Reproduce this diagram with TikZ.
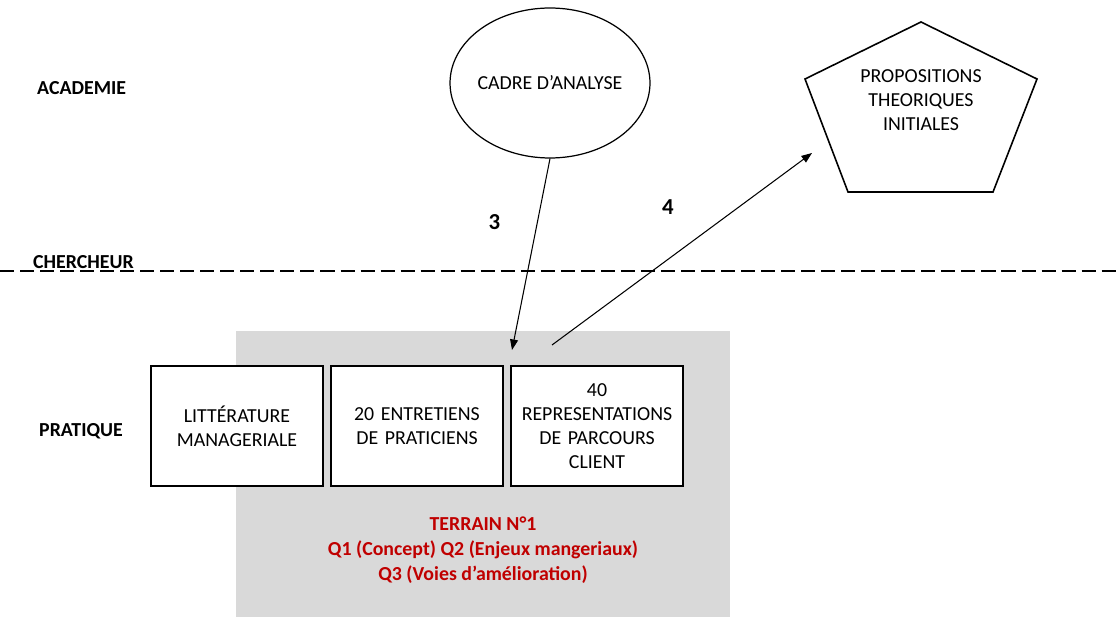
\documentclass[tikz,border=0pt]{standalone}
\usepackage{fontspec}
\setmainfont{Carlito}
\usetikzlibrary{arrows.meta, positioning, shapes.geometric}
\definecolor{terraingray}{HTML}{D9D9D9}
\definecolor{terrainred}{HTML}{C00000}

\begin{document}
\begin{tikzpicture}[
    x=0.02cm, y=-0.02cm,
    >={Triangle[length=6pt, width=4.5pt]},
    level/.style={font=\fontsize{11.3}{13.7}\selectfont\bfseries, anchor=west},
    source/.style={
      draw, line width=0.7pt, fill=white,
      minimum width=3.44cm, minimum height=2.4cm, inner sep=0pt,
      text width=3.3cm, align=center,
      font=\fontsize{11.3}{13.7}\selectfont
    },
    cadre/.style={
      draw, ellipse, line width=0.7pt, inner xsep=-0.3cm,
      minimum width=4cm, minimum height=3cm,
      font=\fontsize{11.3}{13.7}\selectfont
    },
    step label/.style={font=\fontsize{13}{15}\selectfont\bfseries},
    link/.style={->, line width=0.6pt}
  ]
  \useasboundingbox (0,0) rectangle (1118,618);

  % levels
  \node[level] (academie) at (31,88) {ACADEMIE};
  \node[level] (chercheur) at (27,262) {CHERCHEUR};
  \node[level] (pratique) at (33,431) {PRATIQUE};
  \draw[line width=1.1pt, dash pattern=on 8pt off 3.4pt] (0,271) -- (1118,271);

  % terrain
  \fill[terraingray] (236,331) rectangle (730,617);
  \node[source] (litt) at (237,426) {LITTÉRATURE\\MANAGERIALE};
  \node[source] (entretiens) at (417,426) {20 ENTRETIENS\\DE PRATICIENS};
  \node[source] (parcours) at (597,426) {40\\REPRESENTATIONS\\DE PARCOURS\\CLIENT};
  \node[font=\fontsize{11.3}{14.2}\selectfont\bfseries, text=terrainred, align=center]
    (terrain) at (483,550)
    {TERRAIN N°1\\Q1 (Concept) Q2 (Enjeux mangeriaux)\\Q3 (Voies d’amélioration)};

  % academie
  \node[cadre] (cadre) at (550,83) {CADRE D’ANALYSE};
  \draw[line width=0.9pt] (921,22) -- (1037,79) -- (993,192) -- (848,192) -- (805,79) -- cycle;
  \node[font=\fontsize{11.3}{13.7}\selectfont, align=center] (props) at (921,100)
    {PROPOSITIONS\\THEORIQUES\\INITIALES};

  % links
  \coordinate (in3) at (512,350);
  \coordinate (out4) at (552,345);
  \coordinate (in4) at (812,153);
  \draw[link] (cadre.south) -- (in3)
    node[pos=0.33, left=0.62cm, step label] {3};
  \draw[link] (out4) -- (in4)
    node[pos=0.5, above left=0.56cm and 0.04cm, step label] {4};

\end{tikzpicture}
\end{document}
